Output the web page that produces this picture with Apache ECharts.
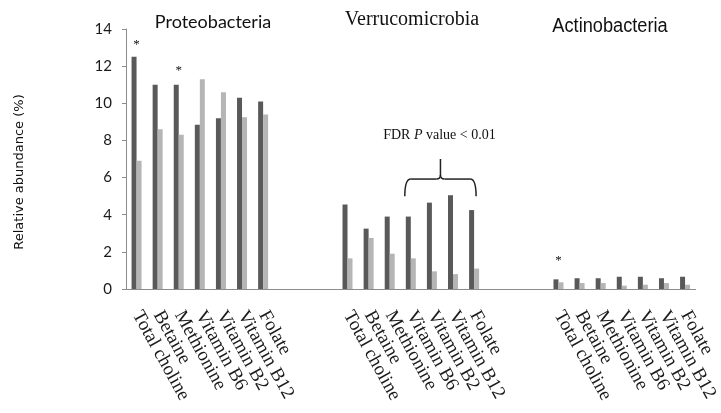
<!DOCTYPE html>
<html>
<head>
<meta charset="utf-8">
<script src="https://cdn.jsdelivr.net/npm/echarts@6/dist/echarts.min.js"></script>
<style>
  html, body { margin: 0; padding: 0; background: #fff; }
  #main { width: 721px; height: 413px; }
</style>
</head>
<body>
<div id="main"></div>
<script>
// nutrients shown under each phylum
var nutrients = ['Total choline', 'Betaine', 'Methionine', 'Vitamin B6', 'Vitamin B2', 'Vitamin B12', 'Folate'];
var phyla = ['Proteobacteria', 'Verrucomicrobia', 'Actinobacteria'];
var gapSize = 3; // empty categories between phyla

// relative abundance (%), dark = first group, light = second group
var proteoDark = [12.5, 11.0, 11.0, 8.85, 9.2, 10.3, 10.1];
var proteoLight = [6.9, 8.6, 8.3, 11.3, 10.6, 9.25, 9.4];
var verrucoDark = [4.55, 3.25, 3.9, 3.9, 4.65, 5.05, 4.25];
var verrucoLight = [1.65, 2.75, 1.9, 1.65, 0.95, 0.8, 1.1];
var actinoDark = [0.52, 0.58, 0.58, 0.66, 0.66, 0.58, 0.66];
var actinoLight = [0.36, 0.32, 0.32, 0.18, 0.23, 0.32, 0.23];

var yTicks = { min: 0, max: 14, interval: 2 };

var sansFont = 'Lato, "Open Sans", "Liberation Sans", sans-serif';
var narrowFont = '"Liberation Sans Narrow", "Liberation Sans", Arial, sans-serif';
var serifFont = '"Liberation Serif", "DejaVu Serif", serif';

// build category axis + series arrays with gaps
var categories = [];
var darkData = [];
var lightData = [];
var groups = [[proteoDark, proteoLight], [verrucoDark, verrucoLight], [actinoDark, actinoLight]];
groups.forEach(function (g, gi) {
  if (gi > 0) {
    for (var k = 0; k < gapSize; k++) {
      categories.push(' '.repeat(gi * 10 + k + 1));
      darkData.push(null);
      lightData.push(null);
    }
  }
  nutrients.forEach(function (n, i) {
    categories.push(n + '\u200b'.repeat(gi));
    darkData.push(g[0][i]);
    lightData.push(g[1][i]);
  });
});

var chart = echarts.init(document.getElementById('main'));

var option = {
  animation: false,
  grid: { left: 126, right: 24, top: 29, bottom: 124, containLabel: false },
  xAxis: {
    type: 'category',
    data: categories,
    axisLine: { lineStyle: { color: '#8c8c8c', width: 1 } },
    axisTick: { interval: 0, length: 6, lineStyle: { color: '#8c8c8c' } },
    axisLabel: {
      interval: 0,
      rotate: -61,
      margin: 23,
      color: '#1a1a1a',
      fontFamily: serifFont,
      fontSize: 19,
      formatter: function (v) { return v.replace(/\u200b/g, '').trim(); }
    }
  },
  yAxis: {
    type: 'value',
    min: yTicks.min,
    max: yTicks.max,
    interval: yTicks.interval,
    axisLine: { show: true, lineStyle: { color: '#8c8c8c', width: 1 } },
    axisTick: { show: true, length: 4, lineStyle: { color: '#8c8c8c' } },
    splitLine: { show: false },
    axisLabel: { margin: 14, color: '#1a1a1a', fontFamily: sansFont, fontSize: 15 }
  },
  series: [
    {
      type: 'bar', data: darkData, barWidth: 5, barGap: '0%',
      itemStyle: { color: '#595959' }
    },
    {
      type: 'bar', data: lightData, barWidth: 5, barGap: '0%',
      itemStyle: { color: '#b5b5b5' }
    }
  ]
};
chart.setOption(option);

// annotations placed through the chart's own scales
function px(cat, val) {
  return chart.convertToPixel({ xAxisIndex: 0, yAxisIndex: 0 }, [cat, val]);
}
var verruStart = nutrients.length + gapSize;
var actinoStart = verruStart + nutrients.length + gapSize;

var star1 = px(0, 13.3);
var star2 = px(2, 11.9);
var star3 = px(actinoStart, 1.7);

var bL = px(verruStart + 3, 5.0);
var bR = px(verruStart + 6, 5.0);
var bMid = px(verruStart + 5, 5.92);
var bTop = px(verruStart + 5, 7.0);
var x1 = bL[0] - 6, x2 = bR[0] + 2, xc = (x1 + x2) / 2;
var yTip = bL[1], yH = bMid[1], yT = bTop[1];
var r = 6;

function seg(a, b, c, d) {
  return { type: 'line', shape: { x1: a, y1: b, x2: c, y2: d }, style: { stroke: '#222', lineWidth: 1.5 } };
}
function curve(a, b, cx, cy, c, d) {
  return { type: 'bezierCurve', shape: { x1: a, y1: b, cpx1: cx, cpy1: cy, x2: c, y2: d },
    style: { stroke: '#222', lineWidth: 1.5, fill: null } };
}
var brace = [
  curve(x1, yTip, x1, yH, x1 + r, yH),
  seg(x1 + r, yH, xc - 4, yH),
  curve(xc - 4, yH, xc, yH, xc, yH - 4),
  seg(xc, yH - 4, xc, yT),
  curve(xc, yH - 4, xc, yH, xc + 4, yH),
  seg(xc + 4, yH, x2 - r, yH),
  curve(x2 - r, yH, x2, yH, x2, yTip)
];

function txt(x, y, s, font, extra) {
  var el = { type: 'text', x: x, y: y,
    style: { text: s, fill: '#111', font: font, align: 'center', verticalAlign: 'middle' } };
  if (extra) Object.keys(extra).forEach(function (k) { el[k] = extra[k]; });
  return el;
}

var elements = [
  txt(213, 22, phyla[0], '18px ' + sansFont),
  txt(412, 20, phyla[1], '20px ' + serifFont),
  txt(610, 26, phyla[2], '20px ' + narrowFont, { scaleX: 0.91 }),
  txt(20, 172, 'Relative abundance (%)', '13px "DejaVu Sans", sans-serif', { rotation: Math.PI / 2 }),
  { type: 'text', x: xc - 1, y: 135,
    style: { rich: { n: { font: '14px ' + serifFont, fill: '#111' },
                     i: { font: 'italic 14px ' + serifFont, fill: '#111' } },
      text: '{n|FDR }{i|P}{n| value < 0.01}', align: 'center', verticalAlign: 'middle' } },
  txt(star1[0], star1[1] + 3, '*', '13px ' + serifFont),
  txt(star2[0], star2[1] + 3, '*', '13px ' + serifFont),
  txt(star3[0], star3[1] + 3, '*', '13px ' + serifFont)
].concat(brace);

chart.setOption({ graphic: elements });
</script>
</body>
</html>
